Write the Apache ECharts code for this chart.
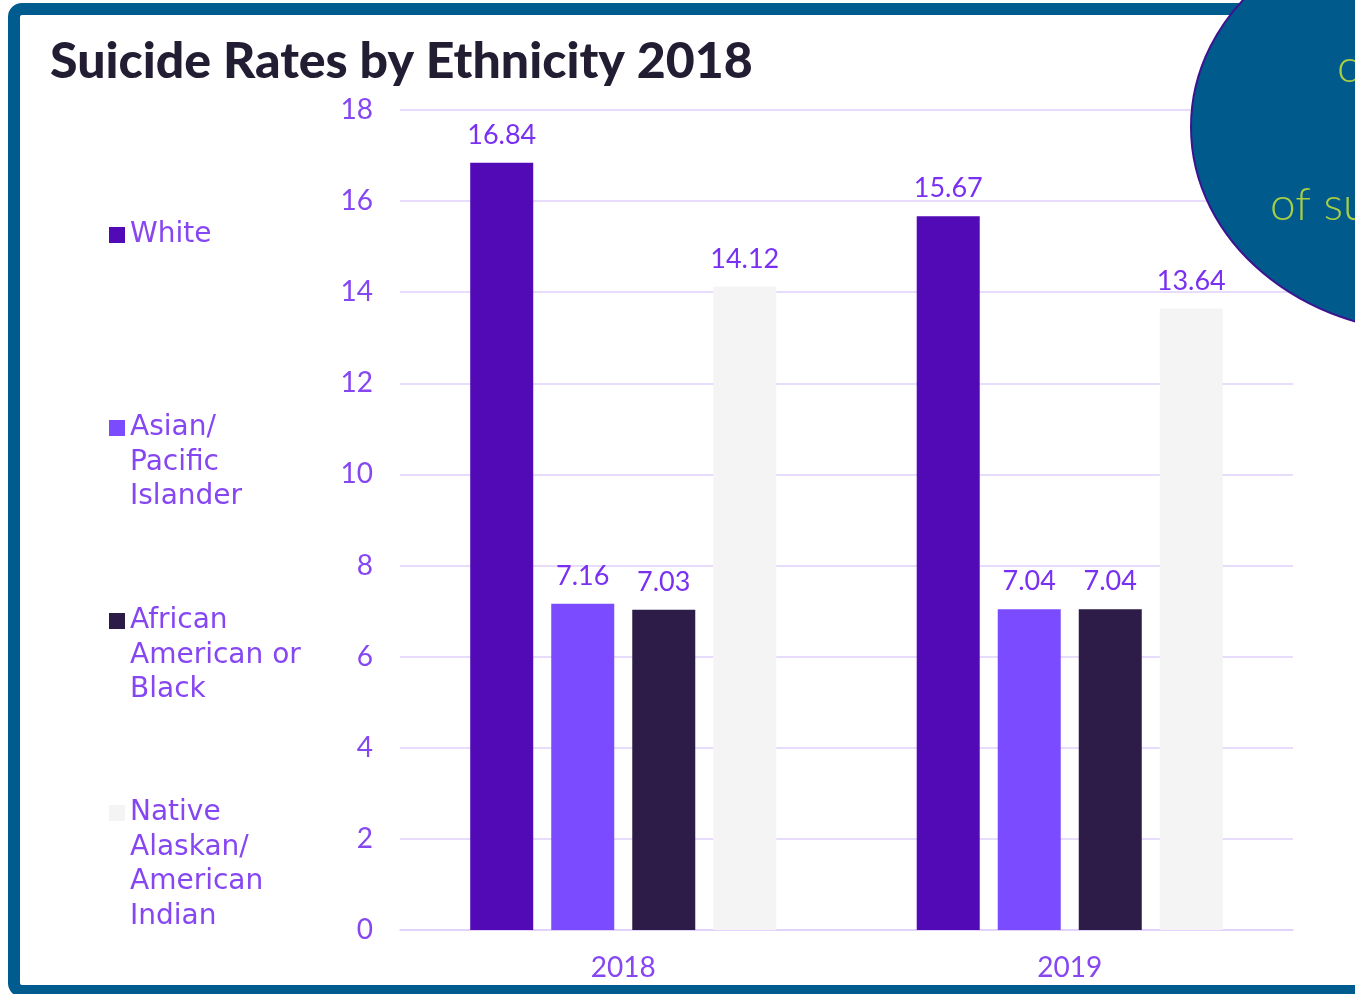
<!DOCTYPE html>
<html>
<head>
<meta charset="utf-8">
<title>Suicide Rates by Ethnicity</title>
<script src="https://cdn.jsdelivr.net/npm/echarts@6/dist/echarts.min.js"></script>
<style>
    html, body { margin: 0; padding: 0; background: #ffffff; }
    #chart { width: 1355px; height: 994px; }
</style>
</head>
<body>
<div id="chart"></div>
<script>
var years = ['2018', '2019'];
var groups = ['White', 'Asian/\nPacific\nIslander', 'African\nAmerican or\nBlack', 'Native\nAlaskan/\nAmerican\nIndian'];
var white = [16.84, 15.67];
var asian = [7.16, 7.04];
var black = [7.03, 7.04];
var native = [14.12, 13.64];
var yTicks = [0, 18, 2];

var colors = ['#5209b6', '#7b4cff', '#2d1c48', '#f4f4f4'];
var legendCenters = [235, 428, 621, 813];

var fontName = 'Lato';
var legendFont = 'DejaVu Sans';
var lineH = 34.5;

function makeLegend(i) {
    var lines = groups[i].split('\n').length;
    return {
        data: [groups[i]],
        orient: 'vertical',
        left: 109,
        top: legendCenters[i] - (2 * lines - 1) * lineH / 2,
        padding: 0,
        itemWidth: 16,
        itemHeight: 16,
        itemGap: 0,
        icon: 'rect',
        selectedMode: false,
        // blank lines in front so the first line sits beside the icon
        formatter: function (name) {
            var pad = '';
            for (var k = 1; k < lines; k++) { pad += ' \n'; }
            return pad + name;
        },
        textStyle: {
            color: '#8646f2',
            fontFamily: legendFont,
            fontSize: 28,
            lineHeight: lineH
        }
    };
}

function makeSeries(name, data, color) {
    return {
        name: name,
        type: 'bar',
        data: data,
        barWidth: 63,
        barGap: '28.6%',
        itemStyle: { color: color },
        label: {
            show: true,
            position: 'top',
            distance: 14,
            color: '#7a30f2',
            fontFamily: fontName,
            fontSize: 27
        }
    };
}

var chart = echarts.init(document.getElementById('chart'));

option = {
    animation: false,
    color: colors,
    grid: {
        left: 400,
        right: 62,
        top: 110,
        bottom: 64
    },
    legend: [makeLegend(0), makeLegend(1), makeLegend(2), makeLegend(3)],
    xAxis: {
        type: 'category',
        data: years,
        axisTick: { show: false },
        axisLine: { lineStyle: { color: '#e1d0fb', width: 1.5 } },
        axisLabel: {
            color: '#8646f2',
            fontFamily: fontName,
            fontSize: 28,
            margin: 24
        }
    },
    yAxis: {
        type: 'value',
        min: yTicks[0],
        max: yTicks[1],
        interval: yTicks[2],
        axisLine: { show: false },
        axisTick: { show: false },
        splitLine: { lineStyle: { color: '#e1d0fb', width: 1.5 } },
        axisLabel: {
            color: '#8646f2',
            fontFamily: fontName,
            fontSize: 28,
            margin: 27
        }
    },
    series: [
        makeSeries(groups[0], white, colors[0]),
        makeSeries(groups[1], asian, colors[1]),
        makeSeries(groups[2], black, colors[2]),
        makeSeries(groups[3], native, colors[3])
    ],
    graphic: [
        {
            // frame
            type: 'rect',
            z: 90,
            silent: true,
            shape: { x: 14, y: 9, width: 1420, height: 982, r: 8 },
            style: { fill: 'none', stroke: '#005b8f', lineWidth: 12 }
        },
        {
            type: 'text',
            z: 90,
            left: 50,
            top: 37,
            style: {
                text: 'Suicide Rates by Ethnicity 2018',
                fill: '#231d33',
                font: '900 50px Lato'
            }
        },
        {
            // callout bubble
            type: 'ellipse',
            z: 100,
            silent: true,
            shape: { cx: 1436, cy: 127, rx: 245, ry: 206 },
            style: { fill: '#005b8c', stroke: '#3c1490', lineWidth: 2 }
        },
        {
            type: 'text',
            z: 101,
            x: 1337,
            y: 44,
            style: { text: 'c', fill: '#a6cf45', font: '300 46px Lato' }
        },
        {
            type: 'text',
            z: 101,
            x: 1270,
            y: 182,
            style: { text: 'of su', fill: '#a6cf45', font: '300 46px Lato' }
        }
    ]
};
chart.setOption(option);
</script>
</body>
</html>
